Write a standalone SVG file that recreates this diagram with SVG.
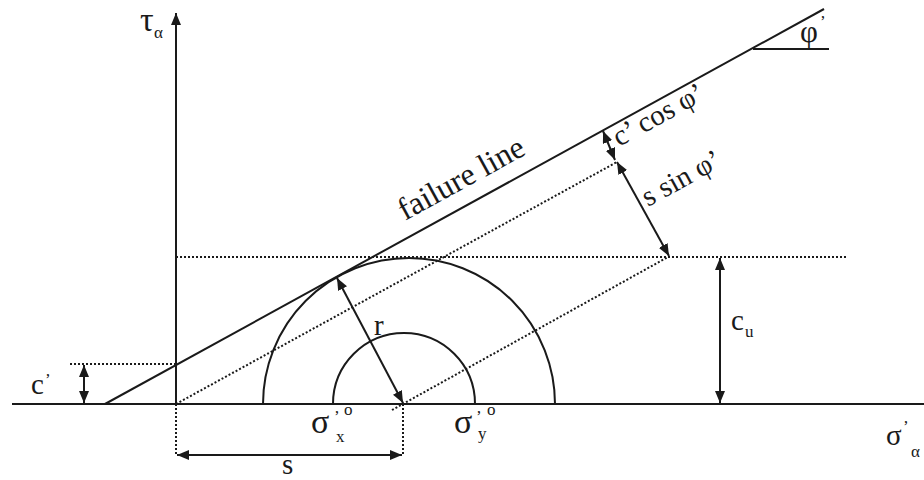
<svg xmlns="http://www.w3.org/2000/svg" width="924" height="480" viewBox="0 0 924 480">
<style>
.ln{stroke:#1a1a1a;stroke-width:2;fill:none}
.dot{stroke:#1a1a1a;stroke-width:2;fill:none;stroke-dasharray:2 2}
.arr{stroke:#1a1a1a;stroke-width:2;fill:none;marker-start:url(#ah);marker-end:url(#ah)}
.arr1{stroke:#1a1a1a;stroke-width:2;fill:none;marker-end:url(#ah)}
.t{font-size:29px}
.s{font-size:17px}
</style>
<defs>
<marker id="ah" viewBox="0 0 12 10" refX="12" refY="5" markerWidth="12" markerHeight="10" markerUnits="userSpaceOnUse" orient="auto-start-reverse">
<path d="M0,0 L12,5 L0,10 z" fill="#1a1a1a"/>
</marker>
</defs>
<g id="axes">
<line class="ln" x1="12" y1="404" x2="924" y2="404"/>
<line class="arr1" x1="176" y1="404" x2="176" y2="13"/>
</g>
<g id="circles">
<path class="ln" d="M333,404 A71,71 0 0 1 475,404"/>
<path class="ln" d="M263,404 A146,146 0 0 1 555,404"/>
</g>
<g id="failure-line">
<line class="ln" x1="105" y1="404" x2="824" y2="9"/>
<line class="ln" x1="753" y1="49" x2="829" y2="49"/>
</g>
<g id="connectors">
<line class="dot" x1="176" y1="257" x2="848" y2="257"/>
<line class="dot" x1="70" y1="364" x2="176" y2="364"/>
<line class="dot" x1="176" y1="404" x2="617" y2="162"/>
<line class="dot" x1="392" y1="410" x2="668" y2="257"/>
<line class="dot" x1="176" y1="404" x2="176" y2="455"/>
<line class="dot" x1="403" y1="404" x2="403" y2="455"/>
<line class="arr" x1="84" y1="365" x2="84" y2="403"/>
<line class="arr" x1="177" y1="455" x2="402" y2="455"/>
<line class="arr" x1="720" y1="258" x2="720" y2="403"/>
<line class="arr" x1="337" y1="278" x2="403" y2="403"/>
<line class="arr" x1="603" y1="131" x2="615" y2="160"/>
<line class="arr" x1="617" y1="162" x2="669" y2="256"/>
</g>
<g id="labels" font-family="Liberation Serif, Times New Roman, DejaVu Serif, serif" fill="#1a1a1a">
<text x="140" y="31" font-size="34">τ</text><text class="s" x="154" y="38">α</text>
<text x="800" y="42" font-size="31">φ</text><text class="s" x="820" y="27">’</text>
<text transform="translate(405,221) rotate(-28.8)" font-size="32">failure line</text>
<text class="t" transform="translate(619,147) rotate(-28.8)">c’ cos φ’</text>
<text class="t" transform="translate(648,207) rotate(-28.8)">s sin φ’</text>
<text class="t" x="374" y="335">r</text>
<text class="t" x="731" y="330">c</text><text class="s" x="745" y="337">u</text>
<text class="t" x="31" y="394">c</text><text class="s" x="45" y="385">’</text>
<text class="t" x="282" y="474">s</text>
<text x="311" y="433" font-size="34">σ</text><text class="s" x="334" y="422">’</text><text class="s" x="336" y="442">x</text><text class="s" x="344" y="415">o</text>
<text x="454" y="433" font-size="34">σ</text><text class="s" x="476" y="422">’</text><text class="s" x="478" y="439">y</text><text class="s" x="487" y="415">o</text>
<text x="886" y="445" font-size="29">σ</text><text class="s" x="903" y="432">’</text><text class="s" x="911" y="457">α</text>
</g>
</svg>
